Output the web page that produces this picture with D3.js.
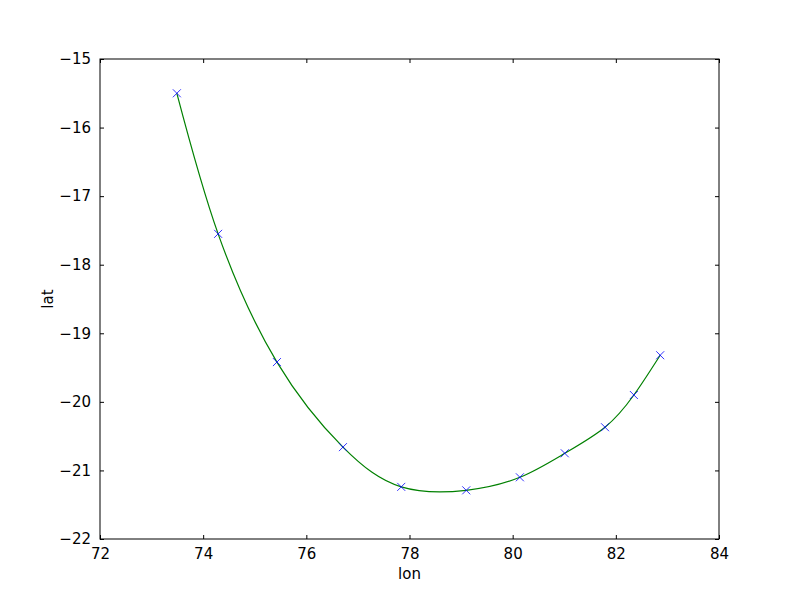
<!DOCTYPE html>
<html>
<head>
<meta charset="utf-8">
<script src="https://cdn.jsdelivr.net/npm/d3@7"></script>
<style>
  body { margin: 0; background: #fff; }
  text { font-family: "DejaVu Sans", sans-serif; }
</style>
</head>
<body>
<div id="chart"></div>
<script>
const lon = [73.49, 74.29, 75.43, 76.71, 77.84, 79.10, 80.14, 81.01, 81.79, 82.35, 82.86];
const lat = [-15.50, -17.55, -19.42, -20.66, -21.24, -21.29, -21.10, -20.75, -20.37, -19.90, -19.32];
const xTicks = [72, 74, 76, 78, 80, 82, 84];
const yTicks = [-22, -21, -20, -19, -18, -17, -16, -15];

const W = 800, H = 600;
const margin = { top: 59, left: 100, right: 81, bottom: 61 };
const fs = 15;

const svg = d3.select("#chart").append("svg")
  .attr("width", W).attr("height", H);

const x = d3.scaleLinear().domain([72, 84]).range([margin.left, W - margin.right]);
const y = d3.scaleLinear().domain([-22, -15]).range([H - margin.bottom, margin.top]);

const pts = lon.map((d, i) => [d, lat[i]]);

// curve
const line = d3.line().x(d => x(d[0])).y(d => y(d[1])).curve(d3.curveNatural);
svg.append("path")
  .datum(pts)
  .attr("d", line)
  .attr("fill", "none")
  .attr("stroke", "#008000")
  .attr("stroke-width", 1.2);

// x markers
const m = 4;
svg.selectAll(".mk")
  .data(pts)
  .enter()
  .append("path")
  .attr("class", "mk")
  .attr("d", d => {
    const cx = x(d[0]), cy = y(d[1]);
    return `M${cx - m},${cy - m}L${cx + m},${cy + m}M${cx - m},${cy + m}L${cx + m},${cy - m}`;
  })
  .attr("stroke", "#0000ff")
  .attr("stroke-width", 0.8)
  .attr("fill", "none");

// frame
svg.append("rect")
  .attr("x", x(72)).attr("y", y(-15))
  .attr("width", x(84) - x(72)).attr("height", y(-22) - y(-15))
  .attr("fill", "none").attr("stroke", "#000").attr("stroke-width", 1);

// axes, ticks inward
const tl = 4;
const gBottom = svg.append("g").attr("transform", `translate(0,${y(-22)})`)
  .call(d3.axisBottom(x).tickValues(xTicks).tickFormat(d3.format("d"))
    .tickSizeInner(-tl).tickSizeOuter(0).tickPadding(9));
const gTop = svg.append("g").attr("transform", `translate(0,${y(-15)})`)
  .call(d3.axisTop(x).tickValues(xTicks).tickSizeInner(-tl).tickSizeOuter(0).tickFormat(""));
const gLeft = svg.append("g").attr("transform", `translate(${x(72)},0)`)
  .call(d3.axisLeft(y).tickValues(yTicks).tickFormat(d3.format("d"))
    .tickSizeInner(-tl).tickSizeOuter(0).tickPadding(9));
const gRight = svg.append("g").attr("transform", `translate(${x(84)},0)`)
  .call(d3.axisRight(y).tickValues(yTicks).tickSizeInner(-tl).tickSizeOuter(0).tickFormat(""));

[gBottom, gTop, gLeft, gRight].forEach(g => {
  g.select(".domain").remove();
  g.selectAll("text").attr("font-size", fs).attr("fill", "#000")
    .style("font-family", "'DejaVu Sans', sans-serif");
});

svg.append("text")
  .attr("x", (x(72) + x(84)) / 2).attr("y", 579)
  .attr("text-anchor", "middle").attr("font-size", fs)
  .text("lon");

svg.append("text")
  .attr("transform", `translate(53,${(y(-15) + y(-22)) / 2}) rotate(-90)`)
  .attr("text-anchor", "middle").attr("font-size", fs)
  .text("lat");
</script>
</body>
</html>
